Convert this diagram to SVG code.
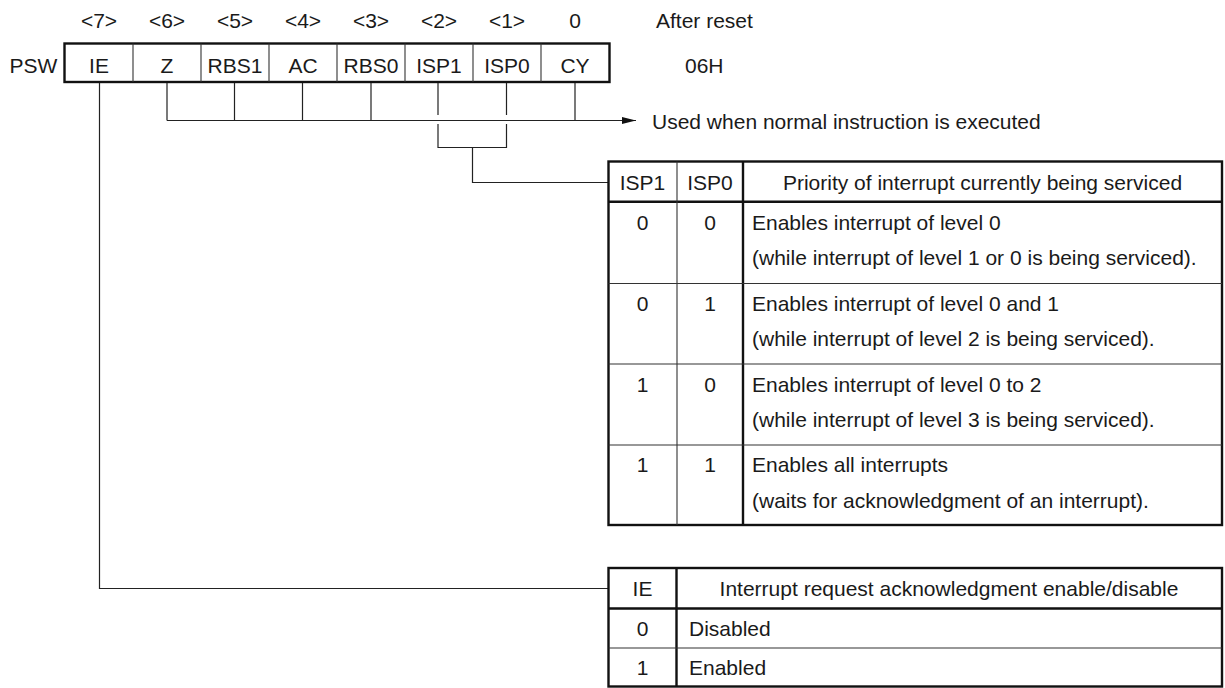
<svg xmlns="http://www.w3.org/2000/svg" width="1225" height="688" viewBox="0 0 1225 688">
<style>
text{font-family:"Liberation Sans",Arial,Helvetica,sans-serif;font-size:21px;fill:#1a1a1a}
.c{text-anchor:middle}
.thick{fill:none;stroke:#111;stroke-width:2.4}
.thin{fill:none;stroke:#333;stroke-width:1.1}
.conn{fill:none;stroke:#222;stroke-width:1.2}
</style>
<defs>
<marker id="arr" viewBox="0 0 14 8" refX="14" refY="4" markerWidth="14" markerHeight="8" markerUnits="userSpaceOnUse" orient="auto">
<path d="M0,0.5 L14,4 L0,7.5 Z" fill="#111"/>
</marker>
</defs>
<rect width="1225" height="688" fill="#fff"/>

<g id="bit-numbers">
<text class="c" x="99" y="28">&lt;7&gt;</text>
<text class="c" x="167" y="28">&lt;6&gt;</text>
<text class="c" x="235" y="28">&lt;5&gt;</text>
<text class="c" x="303" y="28">&lt;4&gt;</text>
<text class="c" x="371" y="28">&lt;3&gt;</text>
<text class="c" x="439" y="28">&lt;2&gt;</text>
<text class="c" x="507" y="28">&lt;1&gt;</text>
<text class="c" x="575" y="28">0</text>
<text x="656" y="28">After reset</text>
</g>

<g id="psw-register">
<text x="9.5" y="73">PSW</text>
<rect class="thick" x="64.5" y="43.5" width="545" height="38.5"/>
<path class="thin" d="M133,43.5V82 M201,43.5V82 M269,43.5V82 M337,43.5V82 M405,43.5V82 M473,43.5V82 M541,43.5V82"/>
<text class="c" x="99" y="73">IE</text>
<text class="c" x="167" y="73">Z</text>
<text class="c" x="235" y="73">RBS1</text>
<text class="c" x="303" y="73">AC</text>
<text class="c" x="371" y="73">RBS0</text>
<text class="c" x="439" y="73">ISP1</text>
<text class="c" x="507" y="73">ISP0</text>
<text class="c" x="575" y="73">CY</text>
<text x="685" y="73">06H</text>
</g>

<g id="connectors">
<path class="conn" d="M167,83V120.5 M234.5,83V120.5 M302.5,83V120.5 M371,83V120.5 M575,83V120.5"/>
<path class="conn" d="M167,120.5H636" marker-end="url(#arr)"/>
<path class="conn" d="M438,83V115 M506.5,83V115"/>
<path class="conn" d="M438,124V147.5H506.5V124"/>
<path class="conn" d="M472.5,147.5V182.5H608"/>
<path class="conn" d="M99.5,83V588.5H608"/>
</g>

<g id="label-normal">
<text x="652" y="129">Used when normal instruction is executed</text>
</g>

<g id="table-isp">
<rect class="thick" x="608.5" y="161.5" width="613.5" height="363.5"/>
<path class="thick" d="M608.5,201.7H1222 M743,161.5V525"/>
<path class="thin" d="M677,161.5V525 M608.5,283.5H1222 M608.5,364H1222 M608.5,445H1222"/>
<text class="c" x="642.5" y="189.5">ISP1</text>
<text class="c" x="710" y="189.5">ISP0</text>
<text class="c" x="982.5" y="189.5">Priority of interrupt currently being serviced</text>
<text class="c" x="642.5" y="230">0</text>
<text class="c" x="710" y="230">0</text>
<text x="752" y="230">Enables interrupt of level 0</text>
<text x="752" y="264.5">(while interrupt of level 1 or 0 is being serviced).</text>
<text class="c" x="642.5" y="311">0</text>
<text class="c" x="710" y="311">1</text>
<text x="752" y="311">Enables interrupt of level 0 and 1</text>
<text x="752" y="346">(while interrupt of level 2 is being serviced).</text>
<text class="c" x="642.5" y="391.5">1</text>
<text class="c" x="710" y="391.5">0</text>
<text x="752" y="391.5">Enables interrupt of level 0 to 2</text>
<text x="752" y="426.5">(while interrupt of level 3 is being serviced).</text>
<text class="c" x="642.5" y="472">1</text>
<text class="c" x="710" y="472">1</text>
<text x="752" y="472">Enables all interrupts</text>
<text x="752" y="507.5">(waits for acknowledgment of an interrupt).</text>
</g>

<g id="table-ie">
<rect class="thick" x="608.5" y="568" width="613.5" height="118.5"/>
<path class="thick" d="M676.5,568V686.5 M608.5,608.5H1222"/>
<path class="thin" d="M608.5,648H1222"/>
<text class="c" x="642.5" y="596">IE</text>
<text class="c" x="949" y="596">Interrupt request acknowledgment enable/disable</text>
<text class="c" x="642.5" y="636">0</text>
<text x="689" y="636">Disabled</text>
<text class="c" x="642.5" y="675">1</text>
<text x="689" y="675">Enabled</text>
</g>
</svg>
